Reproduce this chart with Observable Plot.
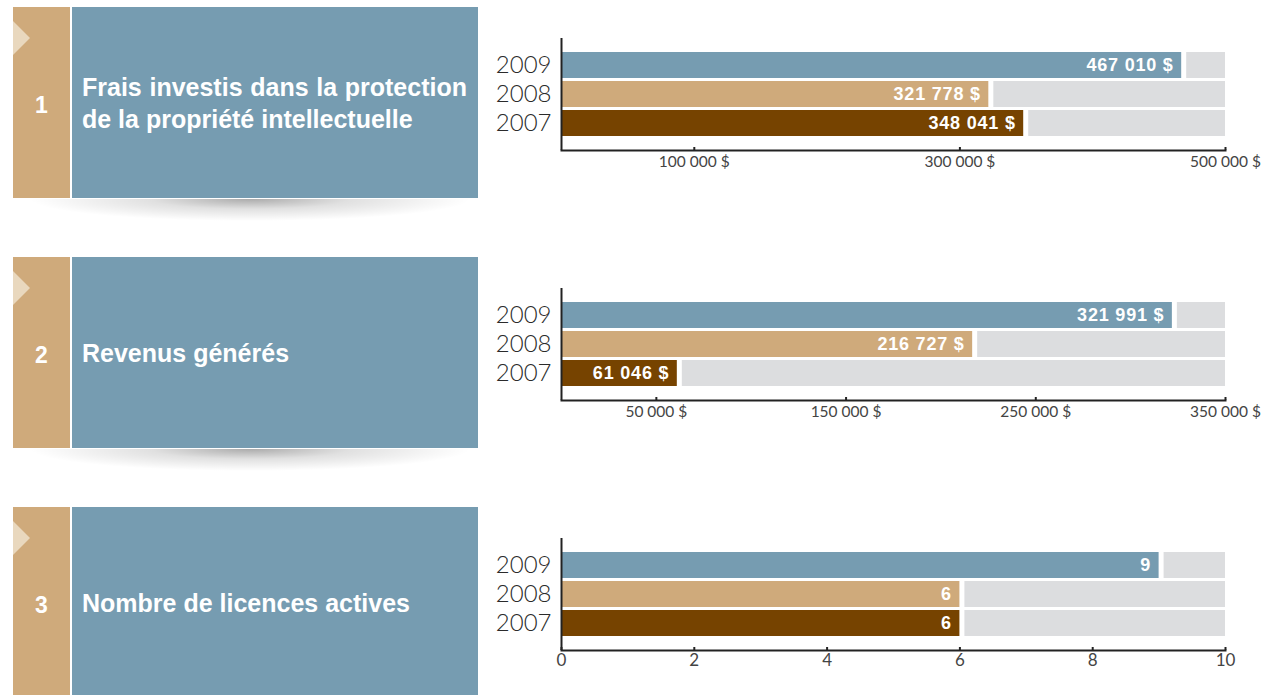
<!DOCTYPE html>
<html lang="fr">
<head>
<meta charset="utf-8">
<script src="https://cdn.jsdelivr.net/npm/d3@7"></script>
<script src="https://cdn.jsdelivr.net/npm/@observablehq/plot@0.6"></script>
<style>
  html, body { margin: 0; padding: 0; background: #fff; }
  body { width: 1264px; height: 695px; position: relative; overflow: hidden; }
  .strip { position: absolute; left: 13px; width: 57px; height: 191px; background: #cfaa7b; }
  .arrow { position: absolute; left: 0; top: 14px; width: 0; height: 0;
           border-top: 17px solid transparent; border-bottom: 17px solid transparent;
           border-left: 17px solid #e9d8be; }
  .num { position: absolute; left: 0; width: 57px; top: 3px; height: 191px; display: flex;
         align-items: center; justify-content: center; color: #fff;
         font: bold 23px "Liberation Sans", Arial, sans-serif; }
  .box { position: absolute; left: 72px; width: 406px; height: 191px; background: #769cb1;
         display: flex; align-items: center; }
  .title { margin-left: 10px; width: 385px; color: #fff; text-align: justify;
           font: bold 25px/32px "Liberation Sans", Arial, sans-serif; }
  .shadow { position: absolute; left: 30px; width: 440px; height: 22px;
            background: radial-gradient(ellipse 50% 100% at 50% 0%, rgba(0,0,0,0.33), rgba(0,0,0,0.12) 45%, rgba(0,0,0,0) 100%); }
  .chart { position: absolute; left: 480px; }
  .chart g[aria-label="text"] text { letter-spacing: 0.8px; }
</style>
</head>
<body>
<script>
// ---- data ----
const years = ["2009", "2008", "2007"];
const yearColors = ["#769cb1", "#cfaa7b", "#764300"];
const panelNumbers = ["1", "2", "3"];
const panelTitles = [
  "Frais investis dans la protection de la propriété intellectuelle",
  "Revenus générés",
  "Nombre de licences actives"
];
const fraisValues = [467010, 321778, 348041];
const revenusValues = [321991, 216727, 61046];
const licencesValues = [9, 6, 6];
const fraisTicks = [100000, 300000, 500000];
const revenusTicks = [50000, 150000, 250000, 350000];
const licencesTicks = [0, 2, 4, 6, 8, 10];
const fraisMax = 500000;
const revenusMax = 350000;
const licencesMax = 10;

const frLocale = d3.formatLocale({decimal: ",", thousands: " ", grouping: [3], currency: ["", " $"]});
const money = frLocale.format("$,");
const plain = d3.format("d");

const panelTops = [7, 257, 507];
const chartTops = [30, 280, 530];

function chart(values, ticks, max, fmt, tickFontSize, tickPad) {
  const rows = years.map((y, i) => ({year: y, value: values[i], color: yearColors[i], max}));
  return Plot.plot({
    width: 784, height: 150,
    marginLeft: 81, marginRight: 39, marginTop: 8, marginBottom: 30,
    style: {fontFamily: "Lato, sans-serif", background: "transparent", overflow: "visible"},
    x: {domain: [0, max], label: null},
    y: {domain: years, paddingInner: 0.1, paddingOuter: 0.4167, label: null},
    color: {type: "identity"},
    marks: [
      Plot.barX(rows, {y: "year", x1: "value", x2: "max", insetLeft: 5, fill: "#dcdddf"}),
      Plot.barX(rows, {y: "year", x: "value", fill: "color"}),
      Plot.text(rows, {y: "year", x: "value", text: d => fmt(d.value), textAnchor: "end", dx: -8,
        fill: "white", fontWeight: "bold", fontSize: 18, fontFamily: "'Liberation Sans', Arial, sans-serif"}),
      Plot.axisY({tickSize: 0, tickPadding: 10, fontSize: 24, fontWeight: 300, color: "#2b2b2b", label: null}),
      Plot.axisX({ticks, tickFormat: fmt, tickSize: 0, tickPadding: tickPad, fontSize: tickFontSize,
        color: "#444", label: null}),
      Plot.ruleX([0], {stroke: "#222", strokeWidth: 2}),
      Plot.frame({anchor: "bottom", stroke: "#222", strokeWidth: 2}),
      Plot.tickX(ticks, {x: d => d, insetTop: 109, stroke: "#222", strokeWidth: 2})
    ]
  });
}

const charts = [
  chart(fraisValues, fraisTicks, fraisMax, money, 15.5, 5),
  chart(revenusValues, revenusTicks, revenusMax, money, 15.5, 5),
  chart(licencesValues, licencesTicks, licencesMax, plain, 17, 3)
];

panelTitles.forEach((t, i) => {
  const strip = document.createElement("div");
  strip.className = "strip";
  strip.style.top = panelTops[i] + "px";
  strip.innerHTML = `<div class="arrow"></div><div class="num">${panelNumbers[i]}</div>`;
  document.body.appendChild(strip);

  const box = document.createElement("div");
  box.className = "box";
  box.style.top = panelTops[i] + "px";
  const title = document.createElement("div");
  title.className = "title";
  title.textContent = t;
  box.appendChild(title);
  document.body.appendChild(box);

  const sh = document.createElement("div");
  sh.className = "shadow";
  sh.style.top = (panelTops[i] + 192) + "px";
  document.body.appendChild(sh);

  const c = document.createElement("div");
  c.className = "chart";
  c.style.top = chartTops[i] + "px";
  c.appendChild(charts[i]);
  document.body.appendChild(c);
});
</script>
</body>
</html>
